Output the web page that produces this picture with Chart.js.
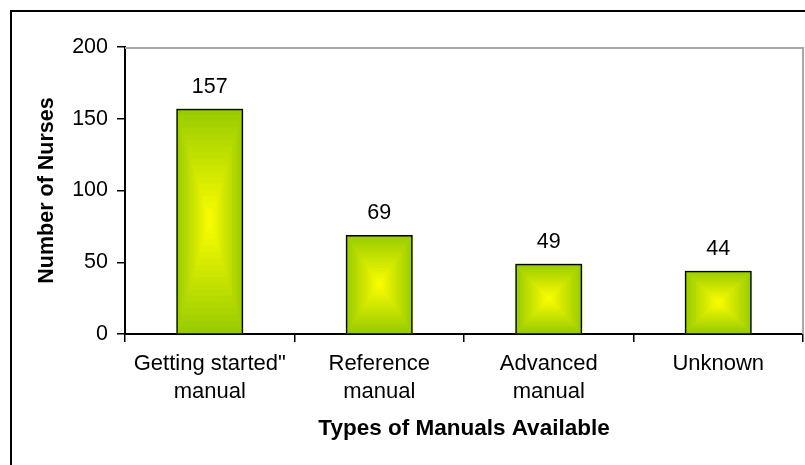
<!DOCTYPE html>
<html>
<head>
<meta charset="utf-8">
<script src="https://cdn.jsdelivr.net/npm/chart.js@4"></script>
<style>
html,body{margin:0;padding:0;background:#fff;overflow:hidden}
#c{display:block}
</style>
</head>
<body>
<canvas id="c" width="805" height="465"></canvas>
<script>
const categories = [['Getting started"', 'manual'], ['Reference', 'manual'], ['Advanced', 'manual'], 'Unknown'];
const nurseCounts = [157, 69, 49, 44];
const yTicks = [0, 50, 100, 150, 200];
const xTitle = 'Types of Manuals Available';
const yTitle = 'Number of Nurses';

const FAMILY = '"Liberation Sans", Arial, sans-serif';

const gradientBars = {
  id: 'gradientBars',
  beforeDatasetsDraw(chart) {
    const ctx = chart.ctx;
    const a = chart.chartArea;
    ctx.save();
    ctx.strokeStyle = '#a8a8a8';
    ctx.lineWidth = 2;
    ctx.beginPath();
    ctx.moveTo(a.left, a.top + 1);
    ctx.lineTo(a.right, a.top + 1);
    ctx.lineTo(a.right, a.bottom);
    ctx.stroke();
    ctx.restore();

    const meta = chart.getDatasetMeta(0);
    const edge = [153, 204, 0], center = [255, 255, 0];
    const steps = 18;
    meta.data.forEach(bar => {
      const {x, y, base, width} = bar.getProps(['x', 'y', 'base', 'width'], true);
      const top = Math.min(y, base), h = Math.abs(base - y);
      const cy = top + h / 2;
      ctx.save();
      for (let i = 0; i < steps; i++) {
        const t = i / steps;
        const hw = width / 2 * (1 - t), hh = h / 2 * (1 - t);
        const c = edge.map((e, k) => Math.round(e + (center[k] - e) * t));
        ctx.fillStyle = 'rgb(' + c.join(',') + ')';
        ctx.fillRect(x - hw, cy - hh, hw * 2, hh * 2);
      }
      ctx.restore();
    });
  },
  afterDatasetsDraw(chart) {
    const ctx = chart.ctx;
    const meta = chart.getDatasetMeta(0);
    ctx.save();
    ctx.fillStyle = '#000';
    ctx.font = '21.5px ' + FAMILY;
    ctx.textAlign = 'center';
    ctx.textBaseline = 'middle';
    meta.data.forEach((bar, i) => {
      const {x, y} = bar.getProps(['x', 'y'], true);
      ctx.fillText(String(chart.data.datasets[0].data[i]), x, y - 22);
    });
    ctx.restore();
  },
  afterDraw(chart) {
    const ctx = chart.ctx;
    ctx.save();
    ctx.strokeStyle = '#000';
    ctx.lineWidth = 2;
    ctx.strokeRect(11, 11, 1000, 1000);
    ctx.restore();
  }
};

new Chart(document.getElementById('c'), {
  type: 'bar',
  data: {
    labels: categories,
    datasets: [{
      data: nurseCounts,
      backgroundColor: 'rgba(0,0,0,0)',
      borderColor: '#000',
      borderWidth: 1.5,
      barPercentage: 0.395,
      categoryPercentage: 1.0
    }]
  },
  options: {
    responsive: false,
    animation: false,
    devicePixelRatio: 1,
    layout: { padding: { top: 47, right: 2, left: 0, bottom: 0 } },
    plugins: { legend: { display: false }, tooltip: { enabled: false } },
    scales: {
      x: {
        afterFit: s => { s.height = 131; },
        grid: { display: true, drawOnChartArea: false, drawTicks: true, tickLength: 8, color: '#000', lineWidth: 1.5, offset: true },
        border: { display: true, color: '#000', width: 2 },
        ticks: { color: '#000', font: { family: FAMILY, size: 22, lineHeight: 1.28 }, padding: 8, maxRotation: 0, autoSkip: false },
        title: { display: true, text: xTitle, color: '#000', font: { family: FAMILY, size: 22.5, weight: 'bold' }, padding: { top: 0, bottom: 23 } }
      },
      y: {
        min: 0,
        max: 200,
        afterBuildTicks: s => { s.ticks = yTicks.map(v => ({ value: v })); },
        afterFit: s => { s.width = 125; },
        grid: { display: true, drawOnChartArea: false, drawTicks: true, tickLength: 8, color: '#000', lineWidth: 1.5 },
        border: { display: true, color: '#000', width: 2 },
        ticks: { color: '#000', font: { family: FAMILY, size: 21.5 }, padding: 9 },
        title: { display: true, text: yTitle, color: '#000', font: { family: FAMILY, size: 21.5, weight: 'bold' }, padding: { top: 34, bottom: 0 } }
      }
    }
  },
  plugins: [gradientBars]
});
</script>
</body>
</html>
